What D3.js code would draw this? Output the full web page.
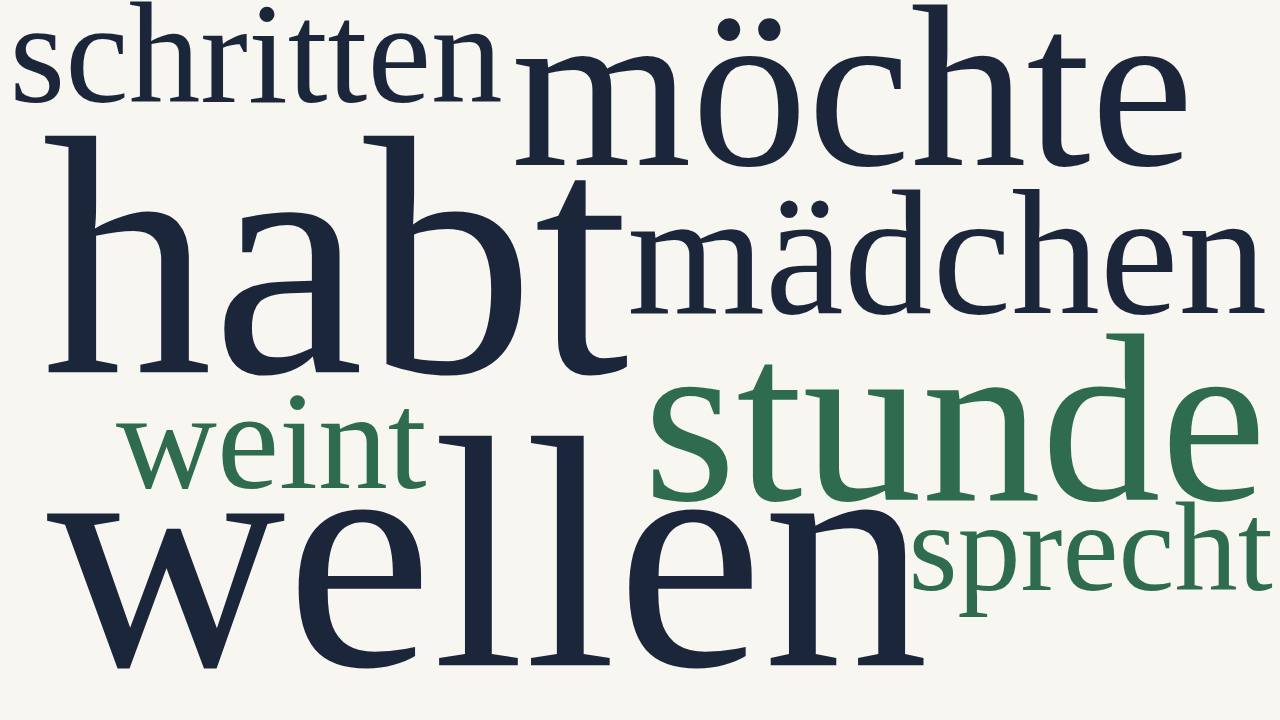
<!DOCTYPE html>
<html>
<head>
<meta charset="utf-8">
<script src="https://cdn.jsdelivr.net/npm/d3@7"></script>
<style>
  html, body { margin: 0; padding: 0; background: #f7f6f1; }
  #cloud { width: 1280px; height: 720px; }
</style>
</head>
<body>
<div id="cloud"></div>
<script>
  // word list and weights
  const words = ['habt', 'wellen', 'stunde', 'möchte', 'mädchen', 'schritten', 'weint', 'sprecht']
  const weights = [100, 97, 70, 68, 52, 42, 41, 37]
  const groups = ['a', 'a', 'b', 'a', 'a', 'a', 'b', 'b']

  // layout result: word centre and baseline, as share of the canvas
  const layoutX = [0.262, 0.381, 0.746, 0.666, 0.740, 0.200, 0.212, 0.852]
  const layoutY = [0.517, 0.924, 0.694, 0.229, 0.435, 0.142, 0.678, 0.819]

  const width = 1280
  const height = 720

  const xScale = d3.scaleLinear().domain([0, 1]).range([0, width])
  const yScale = d3.scaleLinear().domain([0, 1]).range([0, height])
  const sizeScale = d3.scaleLinear().domain([0, 100]).range([0, 341])
  const color = d3.scaleOrdinal().domain(['a', 'b']).range(['#1c263b', '#2e6b4f'])

  const svg = d3.select('#cloud')
    .append('svg')
    .attr('width', width)
    .attr('height', height)

  svg.append('rect')
    .attr('width', width).attr('height', height)
    .attr('fill', '#f7f6f1')

  svg
    .selectAll('text.word')
    .data(words)
    .enter()
    .append('text')
    .classed('word', true)
    .attr('x', (d, i) => xScale(layoutX[i]))
    .attr('y', (d, i) => yScale(layoutY[i]))
    .attr('text-anchor', 'middle')
    .attr('font-family', '"Liberation Serif", "Times New Roman", serif')
    .attr('font-size', (d, i) => sizeScale(weights[i]))
    .attr('fill', (d, i) => color(groups[i]))
    .text(d => d)
</script>
</body>
</html>
